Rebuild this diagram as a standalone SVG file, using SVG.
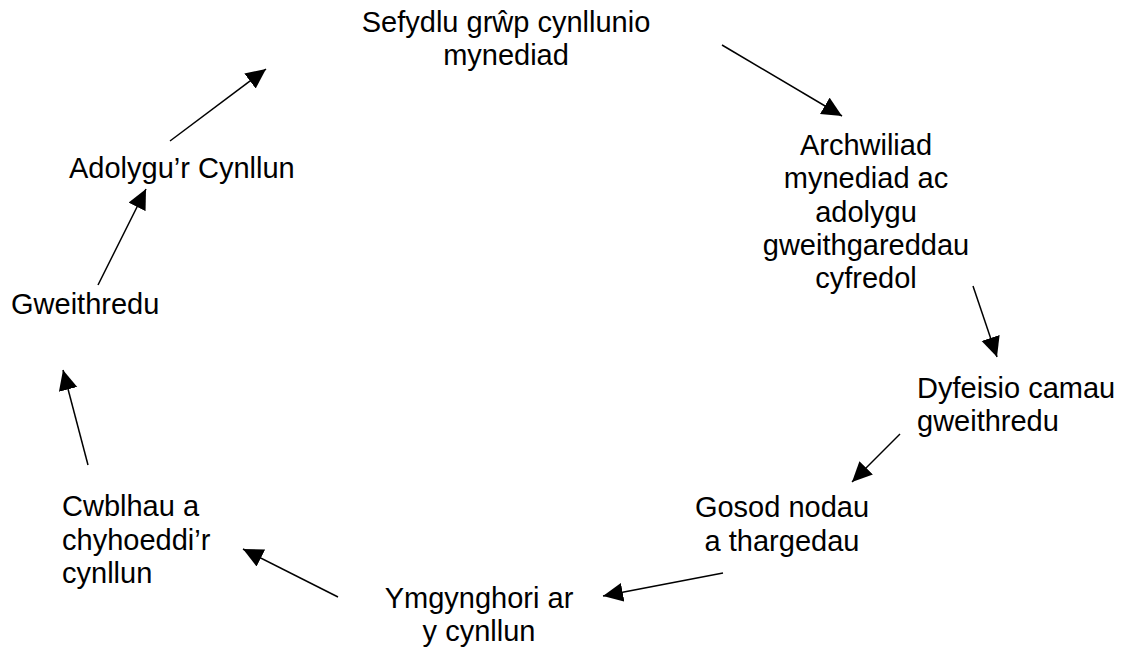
<svg xmlns="http://www.w3.org/2000/svg" width="1122" height="648" viewBox="0 0 1122 648">
  <style>
    text { font-family: "Liberation Sans", Arial, sans-serif; font-size: 29px; fill: #000; }
    .c { text-anchor: middle; }
    .conn line { stroke: #000; stroke-width: 1.5; marker-end: url(#ah); }
  </style>
  <defs>
    <marker id="ah" markerUnits="userSpaceOnUse" markerWidth="21" markerHeight="20" refX="20" refY="9.5" orient="auto" viewBox="0 0 21 20">
      <path d="M0,0 L20,9.5 L0,19 z" fill="#000"/>
    </marker>
  </defs>
  <rect width="1122" height="648" fill="#fff"/>
  <g id="n1"><text class="c" x="506" y="32">Sefydlu grŵp cynllunio</text><text class="c" x="506" y="65">mynediad</text></g>
  <g id="n2">
    <text class="c" x="866" y="155">Archwiliad</text>
    <text class="c" x="866" y="188">mynediad ac</text>
    <text class="c" x="866" y="222">adolygu</text>
    <text class="c" x="866" y="255">gweithgareddau</text>
    <text class="c" x="866" y="288">cyfredol</text>
  </g>
  <g id="n3"><text x="917" y="398">Dyfeisio camau</text><text x="917" y="431">gweithredu</text></g>
  <g id="n4"><text class="c" x="782" y="517">Gosod nodau</text><text class="c" x="782" y="551">a thargedau</text></g>
  <g id="n5"><text class="c" x="479" y="608">Ymgynghori ar</text><text class="c" x="479" y="641">y cynllun</text></g>
  <g id="n6"><text x="62" y="516">Cwblhau a</text><text x="62" y="550">chyhoeddi’r</text><text x="62" y="583">cynllun</text></g>
  <g id="n7"><text x="11" y="314">Gweithredu</text></g>
  <g id="n8"><text x="69" y="178">Adolygu’r Cynllun</text></g>
  <g id="connectors" class="conn">
    <line x1="722" y1="45" x2="842" y2="116"/>
    <line x1="973" y1="286" x2="997" y2="357"/>
    <line x1="900" y1="434" x2="852" y2="482"/>
    <line x1="723" y1="573" x2="603" y2="596"/>
    <line x1="338" y1="597" x2="243" y2="549"/>
    <line x1="88" y1="465" x2="63" y2="370"/>
    <line x1="98" y1="285" x2="146" y2="189"/>
    <line x1="170" y1="141" x2="266" y2="69"/>
  </g>
</svg>
